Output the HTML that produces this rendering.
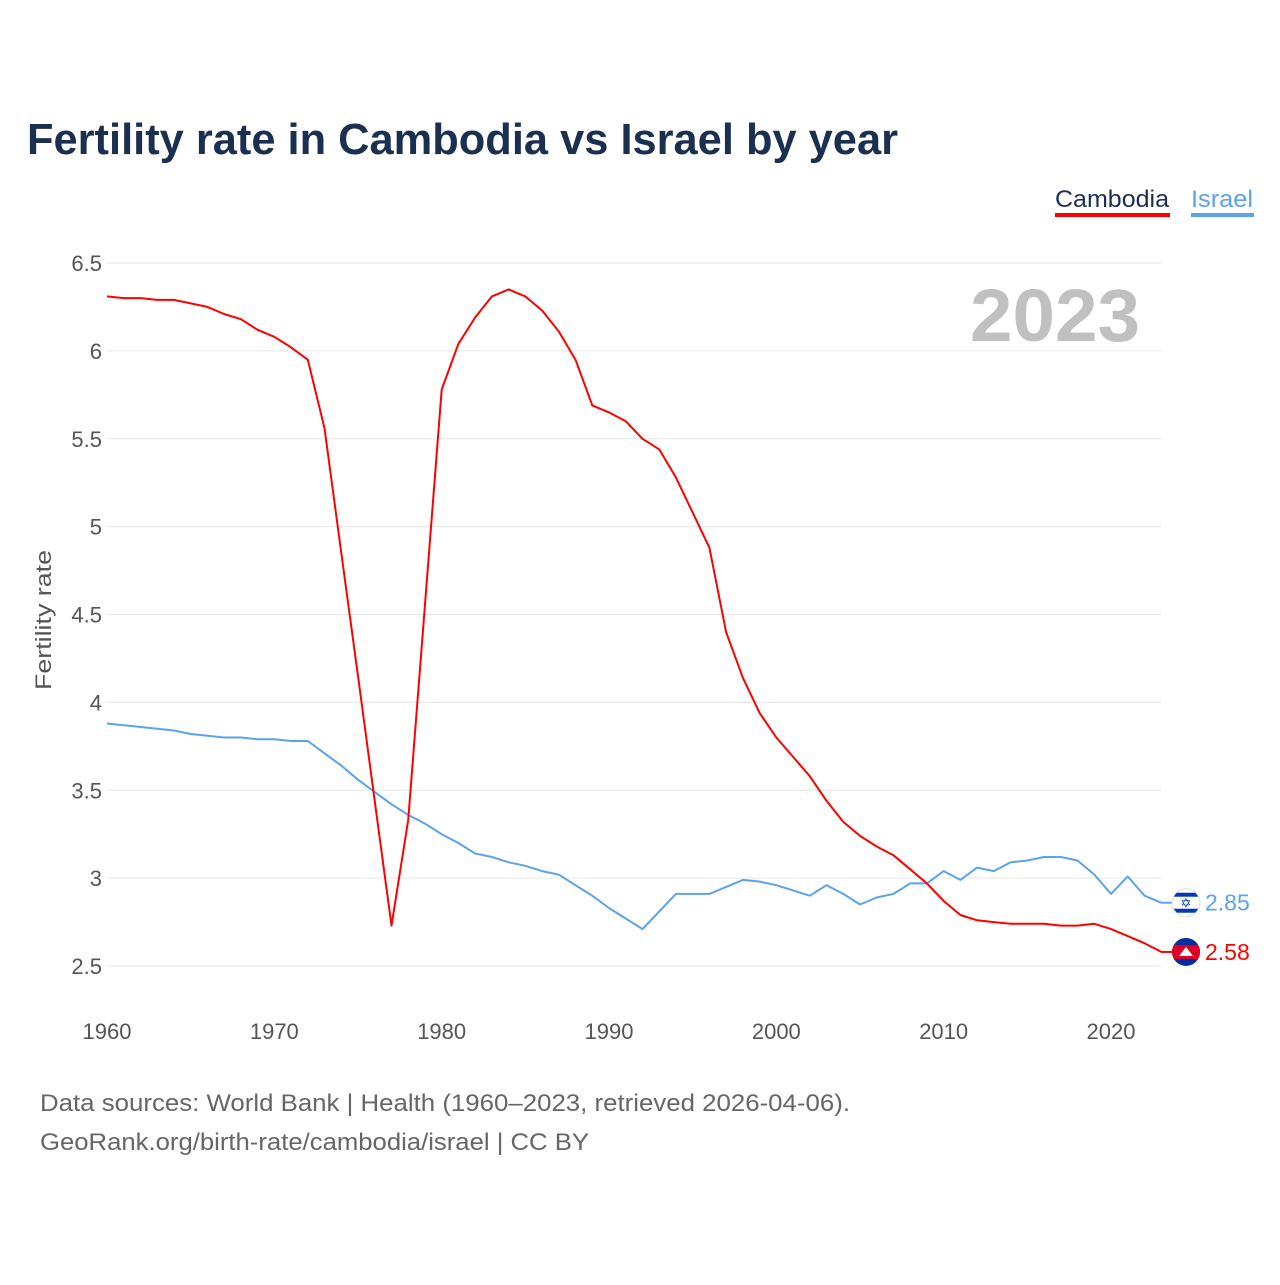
<!DOCTYPE html>
<html><head><meta charset="utf-8"><style>
body{margin:0;width:1280px;height:1280px;background:#fff;font-family:"Liberation Sans",sans-serif;overflow:hidden}
</style></head><body>
<svg width="1280" height="1280" xmlns="http://www.w3.org/2000/svg">
<defs><clipPath id="c1"><circle cx="1186" cy="0" r="14"/></clipPath></defs>
<text x="27" y="154" font-size="44" font-weight="bold" fill="#1b3050" textLength="871" lengthAdjust="spacingAndGlyphs">Fertility rate in Cambodia vs Israel by year</text>
<g>
<text x="1055" y="207" font-size="24" fill="#1b3050" textLength="114" lengthAdjust="spacingAndGlyphs">Cambodia</text>
<rect x="1055" y="213" width="115" height="4" fill="#ff0000"/>
<text x="1191" y="207" font-size="24" fill="#5ba3ea" textLength="62" lengthAdjust="spacingAndGlyphs">Israel</text>
<rect x="1191" y="213" width="63" height="4" fill="#5ba3ea"/>
</g>
<text x="1140" y="341" font-size="74" font-weight="bold" fill="#c0c0c0" text-anchor="end" textLength="170" lengthAdjust="spacingAndGlyphs">2023</text>
<text transform="translate(51,620) rotate(-90)" font-size="22" fill="#555" text-anchor="middle" textLength="140" lengthAdjust="spacingAndGlyphs">Fertility rate</text>
<g id="grid"></g><g id="yt"></g><g id="xt"></g><g id="lines"></g><g id="ends"></g>
<text x="40" y="1111" font-size="24" fill="#666" textLength="810" lengthAdjust="spacingAndGlyphs">Data sources: World Bank | Health (1960–2023, retrieved 2026-04-06).</text>
<text x="40" y="1150" font-size="24" fill="#666" textLength="549" lengthAdjust="spacingAndGlyphs">GeoRank.org/birth-rate/cambodia/israel | CC BY</text>
</svg>
<script>
const years=[];for(let y=1960;y<=2023;y++)years.push(y);
const cambodia=[6.31,6.30,6.30,6.29,6.29,6.27,6.25,6.21,6.18,6.12,6.08,6.02,5.95,5.56,4.85,4.15,3.44,2.73,3.33,4.55,5.78,6.04,6.19,6.31,6.35,6.31,6.23,6.11,5.95,5.69,5.65,5.60,5.50,5.44,5.28,5.08,4.88,4.40,4.14,3.94,3.80,3.69,3.58,3.44,3.32,3.24,3.18,3.13,3.05,2.97,2.87,2.79,2.76,2.75,2.74,2.74,2.74,2.73,2.73,2.74,2.71,2.67,2.63,2.58];
const israel=[3.88,3.87,3.86,3.85,3.84,3.82,3.81,3.80,3.80,3.79,3.79,3.78,3.78,3.71,3.64,3.56,3.49,3.42,3.36,3.31,3.25,3.20,3.14,3.12,3.09,3.07,3.04,3.02,2.96,2.90,2.83,2.77,2.71,2.81,2.91,2.91,2.91,2.95,2.99,2.98,2.96,2.93,2.90,2.96,2.91,2.85,2.89,2.91,2.97,2.97,3.04,2.99,3.06,3.04,3.09,3.10,3.12,3.12,3.10,3.02,2.91,3.01,2.90,2.86];
const yTicks=[2.5,3,3.5,4,4.5,5,5.5,6,6.5];
const xTicks=[1960,1970,1980,1990,2000,2010,2020];
const X=y=>107+(y-1960)*1004/60;
const Y=v=>966-(v-2.5)*175.75;
const NS='http://www.w3.org/2000/svg';
function mk(t,a,p){const e=document.createElementNS(NS,t);for(const k in a)e.setAttribute(k,a[k]);p.appendChild(e);return e;}
const grid=document.getElementById('grid'),yt=document.getElementById('yt'),xt=document.getElementById('xt');
yTicks.forEach(v=>{
 const l=mk('line',{x1:107,x2:1161,y1:Y(v),y2:Y(v),stroke:'#e6e6e6','stroke-width':1},grid);
 
 
 const t=mk('text',{x:102,y:Y(v)+8,'font-size':22,fill:'#555','text-anchor':'end'},yt);
 t.textContent=String(v);
 
 
});
xTicks.forEach(v=>{
 const t=mk('text',{x:X(v),y:1039,'font-size':22,fill:'#555','text-anchor':'middle'},xt);
 t.textContent=String(v);
 
 
});
const lines=document.getElementById('lines');
function line(data,color,name){
 const d=data.map((v,i)=>(i?'L':'M')+X(years[i]).toFixed(1)+','+Y(v).toFixed(1)).join('');
 const p=mk('path',{d:d,fill:'none',stroke:color,'stroke-width':2,'stroke-linejoin':'round'},lines);
 
 
}
line(israel,'#5ba3ea','israel-line');
line(cambodia,'#ff0000','cambodia-line');
const ends=document.getElementById('ends');
function end(data,color,name,flag){
 const v=data[data.length-1],yy=Y(v);
 mk('line',{x1:1161,x2:1172,y1:yy,y2:yy,stroke:color,'stroke-width':2},ends);
 const outer=mk('g',{transform:'translate(0,'+yy+')'},ends);
 
 
 const g=mk('g',{'clip-path':'url(#c1)'},outer);
 if(flag==='il'){
  mk('rect',{x:1170,y:-16,width:32,height:32,fill:'#fff'},g);
  mk('rect',{x:1170,y:-10,width:32,height:4,fill:'#0038b8'},g);
  mk('rect',{x:1170,y:6,width:32,height:4,fill:'#0038b8'},g);
  const s=mk('text',{x:1186,y:5,'font-size':13,fill:'#0038b8','text-anchor':'middle'},g);s.textContent='✡';
  mk('circle',{cx:1186,cy:0,r:14,fill:'none',stroke:'#ddd'},outer);
 } else {
  mk('rect',{x:1170,y:-16,width:32,height:32,fill:'#032ea1'},g);
  mk('rect',{x:1170,y:-7,width:32,height:14,fill:'#e00025'},g);
  mk('path',{d:'M1179,4L1186,-5L1193,4Z',fill:'#fff'},g);
 }
 const t=mk('text',{x:1205,y:yy+8,'font-size':23,fill:color},ends);
 t.textContent=v.toFixed(2)==='2.86'?'2.85':v.toFixed(2);
 
 
}
end(israel,'#5ba3ea','israel','il');
end(cambodia,'#ff0000','cambodia','kh');
</script>
</body></html>
